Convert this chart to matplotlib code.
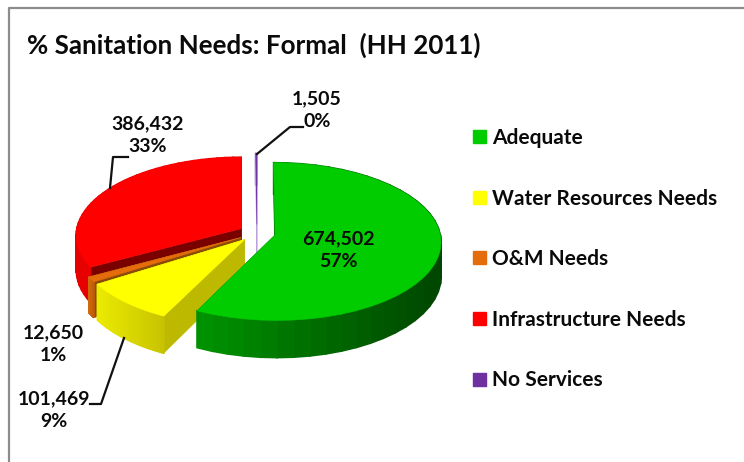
import numpy as np
import matplotlib
matplotlib.use("Agg")
import matplotlib.pyplot as plt
from matplotlib.patches import Polygon, Patch
from matplotlib.colors import to_rgb

plt.rcParams['font.family'] = ['Lato', 'DejaVu Sans']
plt.rcParams['font.weight'] = 'bold'

categories = ["Adequate", "Water Resources Needs", "O&M Needs",
              "Infrastructure Needs", "No Services"]
households = [674502, 101469, 12650, 386432, 1505]
top_colors = ["#00cc00", "#ffff00", "#e46c0a", "#ff0000", "#7030a0"]
wall_left = ["#009600", "#ebeb00", "#d0680a", "#e60000", "#b9a0dc"]
wall_right = ["#004600", "#c8c300", "#b85a08", "#e60000", "#b9a0dc"]
cut_colors = ["#006000", "#bdb800", "#8a4a08", "#7a0000", "#b9a0dc"]

# pie geometry in pixels
CX, CY = 257, 233
RX, RY = 165, 78
PERSP = 0.083
DEPTH = 34
EXPLODE = 0.112


def project(x, y, drop=0):
    s = 1 / (1 + PERSP * y)
    return CX + RX * x * s, CY - RY * y * s + drop * s


def pts(x, y, drop=0):
    px, py = project(np.asarray(x), np.asarray(y), drop)
    return np.column_stack([px, py])


def mix(c1, c2, t):
    a, b = np.array(to_rgb(c1)), np.array(to_rgb(c2))
    return tuple(a + (b - a) * t)


def draw_wedge(ax, start, end, i):
    mid = (start + end) / 2
    ox, oy = EXPLODE * np.sin(mid), EXPLODE * np.cos(mid)
    ang = np.linspace(start, end, 40)
    xs = ox + np.sin(ang)
    ys = oy + np.cos(ang)

    # cut faces: hidden end one first, then the start one
    for a in (end, start):
        ex, ey = ox + np.sin(a), oy + np.cos(a)
        quad = np.vstack([pts([ox, ex], [oy, ey]), pts([ex, ox], [ey, oy], DEPTH)])
        ax.add_patch(Polygon(quad, fc=cut_colors[i], ec=cut_colors[i], lw=0.4))

    # outer wall, one small quad per step so it can shade
    upper = pts(xs, ys)
    lower = pts(xs, ys, DEPTH)
    lo, hi = upper[:, 0].min(), upper[:, 0].max()
    for j in range(len(ang) - 1):
        t = (upper[j, 0] - lo) / max(hi - lo, 1)
        c = mix(wall_left[i], wall_right[i], t)
        quad = [upper[j], upper[j + 1], lower[j + 1], lower[j]]
        ax.add_patch(Polygon(quad, fc=c, ec=c, lw=1.2))

    top = np.vstack([pts([ox], [oy]), upper])
    ax.add_patch(Polygon(top, fc=top_colors[i], ec=top_colors[i], lw=0.4))


fig = plt.figure(figsize=(7.44, 4.62), dpi=100)
ax = fig.add_axes([0, 0, 1, 1])
ax.set_xlim(0, 744)
ax.set_ylim(462, 0)
ax.axis('off')

# chart frame
ax.plot([9, 9, 744], [462, 8, 8], color="#8c8c8c", lw=1.6)

total = sum(households)
edges = 2 * np.pi * np.concatenate([[0], np.cumsum(households)]) / total
for i in [4, 3, 2, 1, 0]:
    draw_wedge(ax, edges[i], edges[i + 1], i)

ax.text(27, 45, "% Sanitation Needs: Formal  (HH 2011)", fontsize=18.7,
        va='center', ha='left', color="#0a0a0a")

labels = [f"{v:,}\n{round(100 * v / total)}%" for v in households]
label_pos = [(338, 250), (54, 410), (53, 344), (148, 135), (317, 110)]
for s, (x, y) in zip(labels, label_pos):
    ax.text(x, y, s, fontsize=14, ha='center', va='center',
            linespacing=1.4, color="#0a0a0a")

# leader lines
ax.plot([303, 290, 257], [127, 127, 154], color="#111111", lw=1.6)
ax.plot([128, 113, 110], [157, 157, 188], color="#111111", lw=1.6)
ax.plot([90, 101, 124], [404, 404, 338], color="#111111", lw=1.6)

handles = [Patch(fc=c, ec=c) for c in top_colors]
ax.legend(handles, categories, loc='upper left', bbox_to_anchor=(0.636, 0.723),
          frameon=False, fontsize=15, labelspacing=1.95, handlelength=0.6,
          handleheight=0.6, handletextpad=0.3, borderpad=0, borderaxespad=0,
          labelcolor="#0a0a0a")

fig.savefig("out.png", dpi=100)
